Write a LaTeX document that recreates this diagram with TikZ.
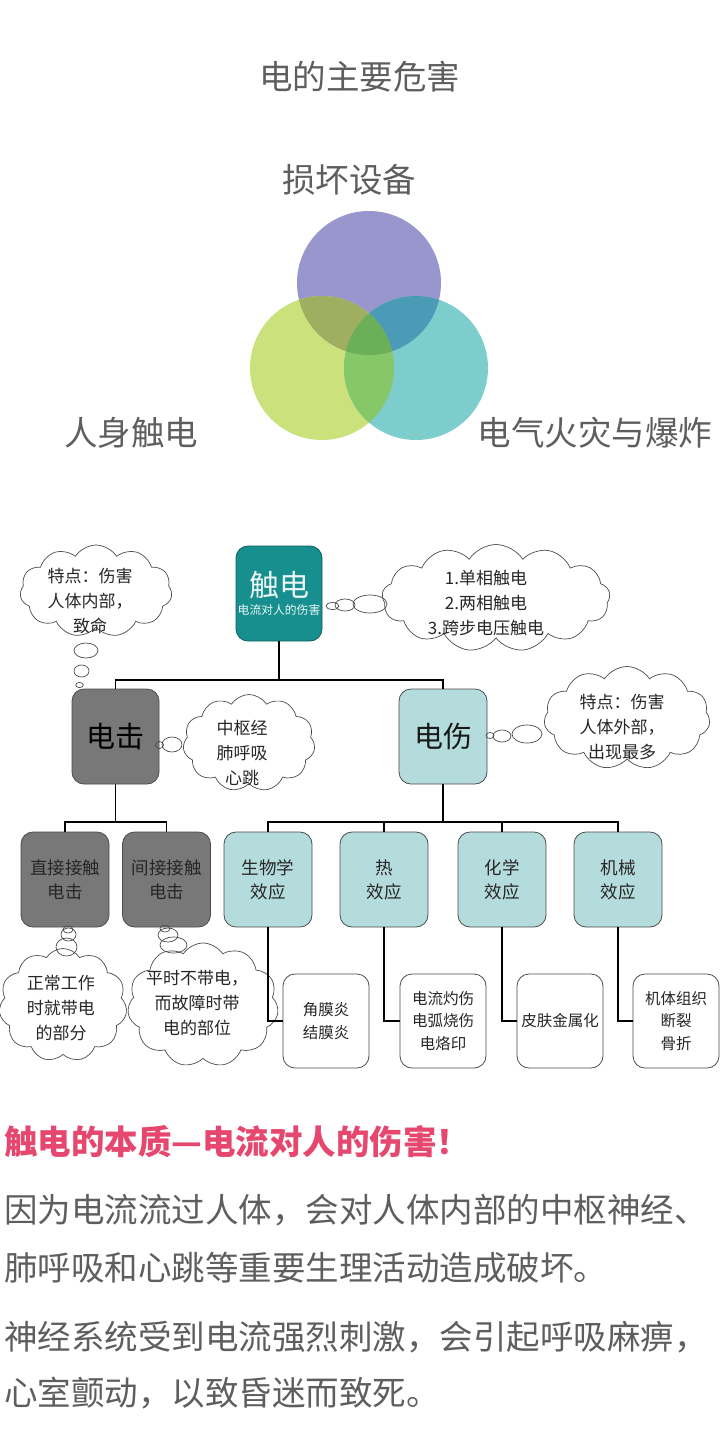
\documentclass[tikz,border=0pt]{standalone}
\usepackage{fontspec}
\setmainfont{Noto Sans CJK SC}
\usetikzlibrary{shapes.symbols}
\definecolor{txtgray}{HTML}{5E5E5E}
\definecolor{vpur}{HTML}{9896CC}
\definecolor{vgrn}{HTML}{CBE17C}
\definecolor{vtea}{HTML}{7ECDCD}
\definecolor{vpg}{HTML}{A0AE62}
\definecolor{vpt}{HTML}{4C9BB6}
\definecolor{vgt}{HTML}{86C768}
\definecolor{vall}{HTML}{6BAF58}
\definecolor{chufill}{HTML}{178F8F}
\definecolor{chudraw}{HTML}{0F5C5C}
\definecolor{grayfill}{HTML}{787878}
\definecolor{lteal}{HTML}{B5DCDC}
\definecolor{pinkhead}{HTML}{E6476E}
\newcommand\cloudlines[3]{\smash{\makebox[0pt]{\hspace*{#1}\raisebox{\dimexpr-#2-4pt\relax}{\begin{tabular}{@{}c@{}}#3\end{tabular}}\hspace*{-#1}}}}
\begin{document}
\begin{tikzpicture}[x=1pt,y=-1pt,
  box/.style={draw=black!70, line width=0.8pt, rounded corners=12pt, minimum width=88pt, minimum height=95pt, inner sep=0pt, align=center},
  gbox/.style={box, fill=grayfill},
  tbox/.style={box, fill=lteal},
  small/.style={font=\fontsize{17.5}{24}\selectfont, text=black!85},
  leaf/.style={box, fill=white, minimum width=86pt, minimum height=94pt, font=\fontsize{15.5}{22.5}\selectfont, text=black!85},
  conn/.style={draw=black, line width=1.8pt},
  thought/.style={cloud, draw=black!70, line width=0.7pt, fill=white, cloud puffs=11, cloud puff arc=115, cloud ignores aspect, inner sep=0pt, font=\fontsize{17}{25}\selectfont, text=black!85},
  bubble/.style={draw=black!70, line width=0.7pt},
  big/.style={font=\fontsize{33.5}{40}\selectfont, text=txtgray},
  para/.style={font=\fontsize{33.5}{40}\selectfont, text=txtgray, anchor=west, inner sep=0pt},
]
\useasboundingbox (0,0) rectangle (720,1440);
\fill[white] (0,0) rectangle (720,1440);

% Venn diagram
\coordinate (P) at (369,283);
\coordinate (G) at (322,368);
\coordinate (T) at (416,368);
\fill[vpur] (P) circle (72pt);
\fill[vgrn] (G) circle (72pt);
\fill[vtea] (T) circle (72pt);
\begin{scope}\clip (P) circle (72pt); \fill[vpg] (G) circle (72pt);\end{scope}
\begin{scope}\clip (P) circle (72pt); \fill[vpt] (T) circle (72pt);\end{scope}
\begin{scope}\clip (G) circle (72pt); \fill[vgt] (T) circle (72pt);\end{scope}
\begin{scope}\clip (P) circle (72pt); \clip (G) circle (72pt); \fill[vall] (T) circle (72pt);\end{scope}

\node[big] (title) at (359.5,77) {电的主要危害};
\node[big] (sun) at (349,180) {损坏设备};
\node[big] (ren) at (131,433) {人身触电};
\node[big] (huo) at (595,433) {电气火灾与爆炸};

% Boxes
\node[box, fill=chufill, draw=chudraw, minimum width=86pt, text=white!92!chufill] (chu) at (279,593.5)
  {\fontsize{30}{34}\selectfont 触电\\[4pt]\fontsize{11.8}{13}\selectfont 电流对人的伤害};
\node[gbox, minimum width=87pt, font=\fontsize{29}{34}\selectfont, text=black] (ji) at (115.5,736.5) {电击};
\node[tbox, font=\fontsize{29}{34}\selectfont, text=black!90] (shang) at (443,736.5) {电伤};

\node[gbox, small] (zj) at (65,879.5) {直接接触\\电击};
\node[gbox, small] (jj) at (166.5,879.5) {间接接触\\电击};
\node[tbox, small] (sw) at (268,879.5) {生物学\\效应};
\node[tbox, small] (re) at (384,879.5) {热\\效应};
\node[tbox, small] (hx) at (502,879.5) {化学\\效应};
\node[tbox, small] (jx) at (618,879.5) {机械\\效应};

\node[leaf] (l1) at (326,1021) {角膜炎\\结膜炎};
\node[leaf] (l2) at (443,1021) {电流灼伤\\电弧烧伤\\电烙印};
\node[leaf] (l3) at (560,1021) {皮肤金属化};
\node[leaf] (l4) at (676,1021) {机体组织\\断裂\\骨折};

% Thought clouds
\node[thought, minimum width=152pt, minimum height=92pt] (c1) at (96,591)
  {\cloudlines{-6pt}{12pt}{特点：伤害\\人体内部，\\致命}};
\node[thought, cloud puffs=13, minimum width=228pt, minimum height=107pt] (c2) at (496,598)
  {\cloudlines{-10pt}{7pt}{1.单相触电\\2.两相触电\\3.跨步电压触电}};
\node[thought, minimum width=132pt, minimum height=97pt] (c3) at (249,743)
  {\cloudlines{-7pt}{12pt}{中枢经\\肺呼吸\\心跳}};
\node[thought, minimum width=166pt, minimum height=103pt] (c4) at (627,718)
  {\cloudlines{-5pt}{11pt}{特点：伤害\\人体外部，\\出现最多}};
\node[thought, minimum width=128pt, minimum height=113pt] (c5) at (63,1005)
  {\cloudlines{-2pt}{5pt}{正常工作\\时就带电\\的部分}};
\node[thought, minimum width=151pt, minimum height=124pt] (c6) at (203,1005)
  {\cloudlines{-6pt}{0pt}{平时不带电，\\而故障时带\\电的部位}};

% thought bubbles
\draw[bubble] (86,650.5) ellipse (12pt and 7.5pt);
\draw[bubble] (81.5,671) ellipse (7.5pt and 6pt);
\draw[bubble] (79.5,685) ellipse (3.8pt and 2.6pt);

\draw[bubble] (370,604) ellipse (17pt and 9pt);
\draw[bubble] (345,605) ellipse (10pt and 6pt);
\draw[bubble] (332.5,606) ellipse (6.5pt and 3.5pt);

\draw[bubble] (172,744.5) ellipse (10pt and 7.5pt);
\draw[bubble] (159.5,745) ellipse (4pt and 3.5pt);

\draw[bubble] (527,734) ellipse (15pt and 9pt);
\draw[bubble] (502,736) ellipse (9pt and 6pt);
\draw[bubble] (490,735.5) ellipse (4pt and 3pt);

\draw[bubble] (66.5,947) ellipse (10.5pt and 9pt);
\draw[bubble] (68.5,934.5) ellipse (7.5pt and 6.5pt);
\draw[bubble] (68,929.5) ellipse (5pt and 3.5pt);

\draw[bubble] (173.5,945) ellipse (13.5pt and 8pt);
\draw[bubble] (168,935) ellipse (10pt and 7pt);
\draw[bubble] (165,928.5) ellipse (5pt and 3.5pt);

% Connectors
\coordinate (j1) at (279,680);
\draw[conn] (chu.south) -- (j1);
\draw[conn] (ji.north) |- (j1) -| (shang.north);
\coordinate (j2) at (115.5,822);
\draw[conn] (ji.south) -- (j2);
\draw[conn] (zj.north) |- (j2) -| (jj.north);
\coordinate (j3) at (443,822);
\draw[conn] (shang.south) -- (j3);
\draw[conn] (sw.north) |- (j3) -| (jx.north);
\draw[conn] (re.north) |- (j3);
\draw[conn] (hx.north) |- (j3);
\draw[conn] (sw.south) |- (l1.west);
\draw[conn] (re.south) |- (l2.west);
\draw[conn] (hx.south) |- (l3.west);
\draw[conn] (jx.south) |- (l4.west);

% Bottom text
\node[para, font=\fontsize{33.5}{40}\selectfont\bfseries, text=pinkhead] (head) at (4,1142) {触电的本质—电流对人的伤害！};
\node[para] (p1) at (4,1210) {因为电流流过人体，会对人体内部的中枢神经、};
\node[para] (p2) at (4,1268) {肺呼吸和心跳等重要生理活动造成破坏。};
\node[para] (p3) at (4,1337) {神经系统受到电流强烈刺激，会引起呼吸麻痹，};
\node[para] (p4) at (4,1393) {心室颤动，以致昏迷而致死。};
\end{tikzpicture}
\end{document}
